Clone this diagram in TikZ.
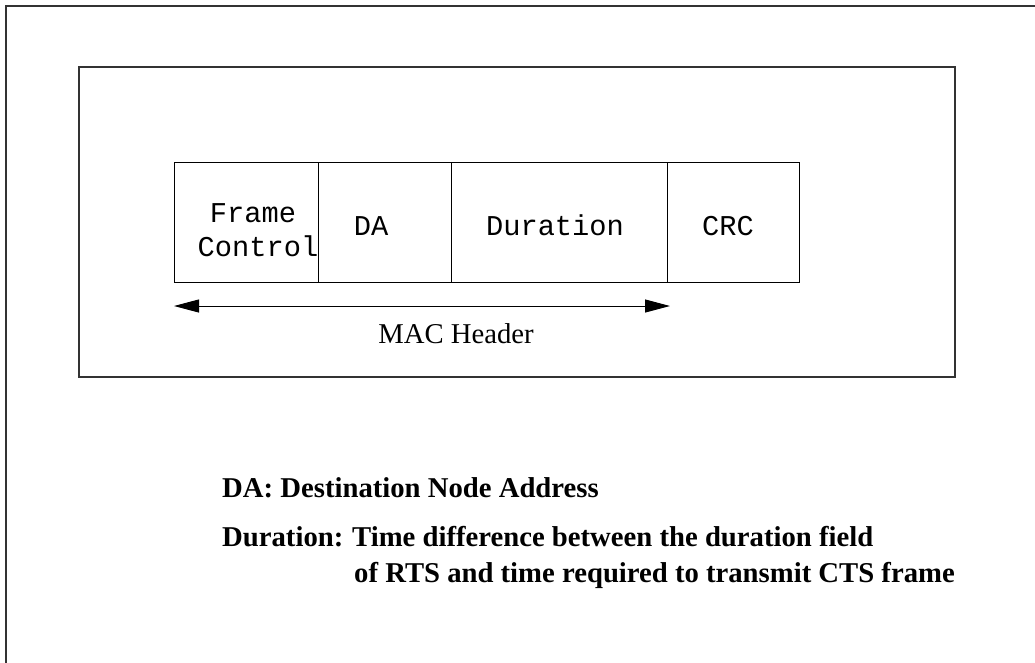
\documentclass[tikz,border=0pt]{standalone}
\usepackage{fontspec}
\setmainfont{Liberation Serif}
\newfontfamily\monofnt{Liberation Mono}
\usetikzlibrary{arrows.meta}
\begin{document}
\begin{tikzpicture}[x=1pt,y=-1pt,
  frameline/.style={line width=1.5pt, draw=black!80},
  field/.style={draw=black, line width=1pt, minimum height=120pt, inner sep=0pt, anchor=north west},
  monotxt/.style={font=\monofnt\fontsize{28.7}{35}\selectfont, inner sep=0pt},
  sertxt/.style={font=\fontsize{28.7}{35}\selectfont, inner sep=0pt},
  boldtxt/.style={font=\bfseries\fontsize{28.7}{35}\selectfont, inner sep=0pt, anchor=base west},
  hdrarrow/.style={line width=1pt, {Triangle[length=25pt,width=13pt]}-{Triangle[length=25pt,width=13pt]}}
]
\useasboundingbox (0,0) rectangle (1035,662);
% outer frame (only top and left edges visible)
\coordinate (otl) at (6,6);
\coordinate (otr) at (1036,6);
\coordinate (obl) at (6,663);
\draw[frameline] (obl) -- (otl) -- (otr);
% inner frame
\node[frameline, draw, minimum width=876pt, minimum height=310pt, anchor=north west, inner sep=0pt] (inner) at (78,66) {};
% fields
\node[field, minimum width=144pt] (fc) at (174,162) {};
\node[field, minimum width=133pt] (da) at (318,162) {};
\node[field, minimum width=216pt] (dur) at (451,162) {};
\node[field, minimum width=132pt] (crc) at (667,162) {};
% field texts
\node[monotxt, anchor=base] (fct1) at (253,222) {Frame};
\node[monotxt, anchor=base] (fct2) at (258,256) {Control};
\node[monotxt, anchor=base] (dat) at (371,235) {DA};
\node[monotxt, anchor=base] (durt) at (555,235) {Duration};
\node[monotxt, anchor=base] (crct) at (728,235) {CRC};
% MAC header arrow
\coordinate (al) at (174,306);
\coordinate (ar) at (670,306);
\draw[hdrarrow] (al) -- (ar);
\node[sertxt, anchor=base] (mac) at (456,343) {MAC Header};
% legend
\node[boldtxt] (l1) at (222,497) {DA: Destination Node Address};
\node[boldtxt] (l2a) at (222,546) {Duration:};
\node[boldtxt] (l2b) at (352,546) {Time difference between the duration field};
\node[boldtxt] (l3) at (354,582) {of RTS and time required to transmit CTS frame};
\end{tikzpicture}
\end{document}
